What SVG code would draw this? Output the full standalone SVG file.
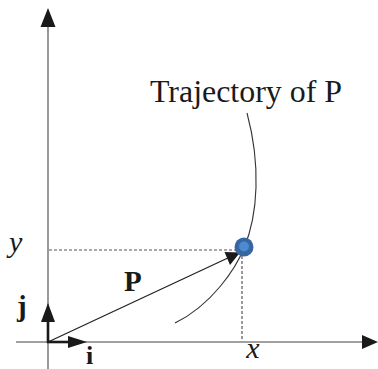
<svg xmlns="http://www.w3.org/2000/svg" width="378" height="369" viewBox="0 0 378 369">
<style>
.axis{stroke:#808080;stroke-width:1.6;fill:none}
.head{fill:#1a1a1a}
.dash{stroke:#555;stroke-width:1.2;stroke-dasharray:3,2;fill:none}
.curve{stroke:#333;stroke-width:1.1;fill:none}
.lbl{font-family:'Liberation Serif',serif;fill:#1a1a1a}
.it{font-style:italic}
.bd{font-weight:bold}
</style>
<rect width="378" height="369" fill="#fff"/>
<g id="axes">
<line class="axis" x1="48" y1="369" x2="48" y2="22"/>
<polygon class="head" points="48,8 40.5,27 55.5,27"/>
<line class="axis" x1="16" y1="342" x2="366" y2="342"/>
<polygon class="head" points="378,342 362,335 362,349"/>
</g>
<g id="guides">
<line class="dash" x1="49" y1="250" x2="236" y2="250"/>
<line class="dash" x1="242" y1="256" x2="242" y2="341"/>
</g>
<g id="trajectory">
<path class="curve" d="M247,113 C261,165 258,215 244,248 C236,268 212,305 175,323"/>
</g>
<g id="connectors">
<line x1="48" y1="342" x2="230" y2="257" stroke="#222" stroke-width="1.3"/>
<polygon class="head" points="240,252.5 224.5,252 230,265"/>
<line x1="48" y1="343" x2="48" y2="316" stroke="#1a1a1a" stroke-width="2.6"/>
<polygon class="head" points="48,303 41,322 55,322"/>
<line x1="47" y1="342" x2="72" y2="342" stroke="#1a1a1a" stroke-width="2.6"/>
<polygon class="head" points="87,342 68,336 68,348"/>
</g>
<g id="point">
<circle cx="244" cy="247" r="9.5" fill="#3767a2"/>
<circle cx="244" cy="246.5" r="5" fill="#4d8ad0"/>
</g>
<g id="labels">
<text class="lbl" x="150" y="102" font-size="31" textLength="192" lengthAdjust="spacingAndGlyphs">Trajectory of P</text>
<text class="lbl it" x="9" y="252" font-size="30">y</text>
<text class="lbl it" x="253" y="358" font-size="30" text-anchor="middle">x</text>
<text class="lbl bd" x="124" y="291" font-size="29">P</text>
<text class="lbl bd" x="17" y="316" font-size="29">j</text>
<text class="lbl bd" x="86" y="364" font-size="26">i</text>
</g>
</svg>
